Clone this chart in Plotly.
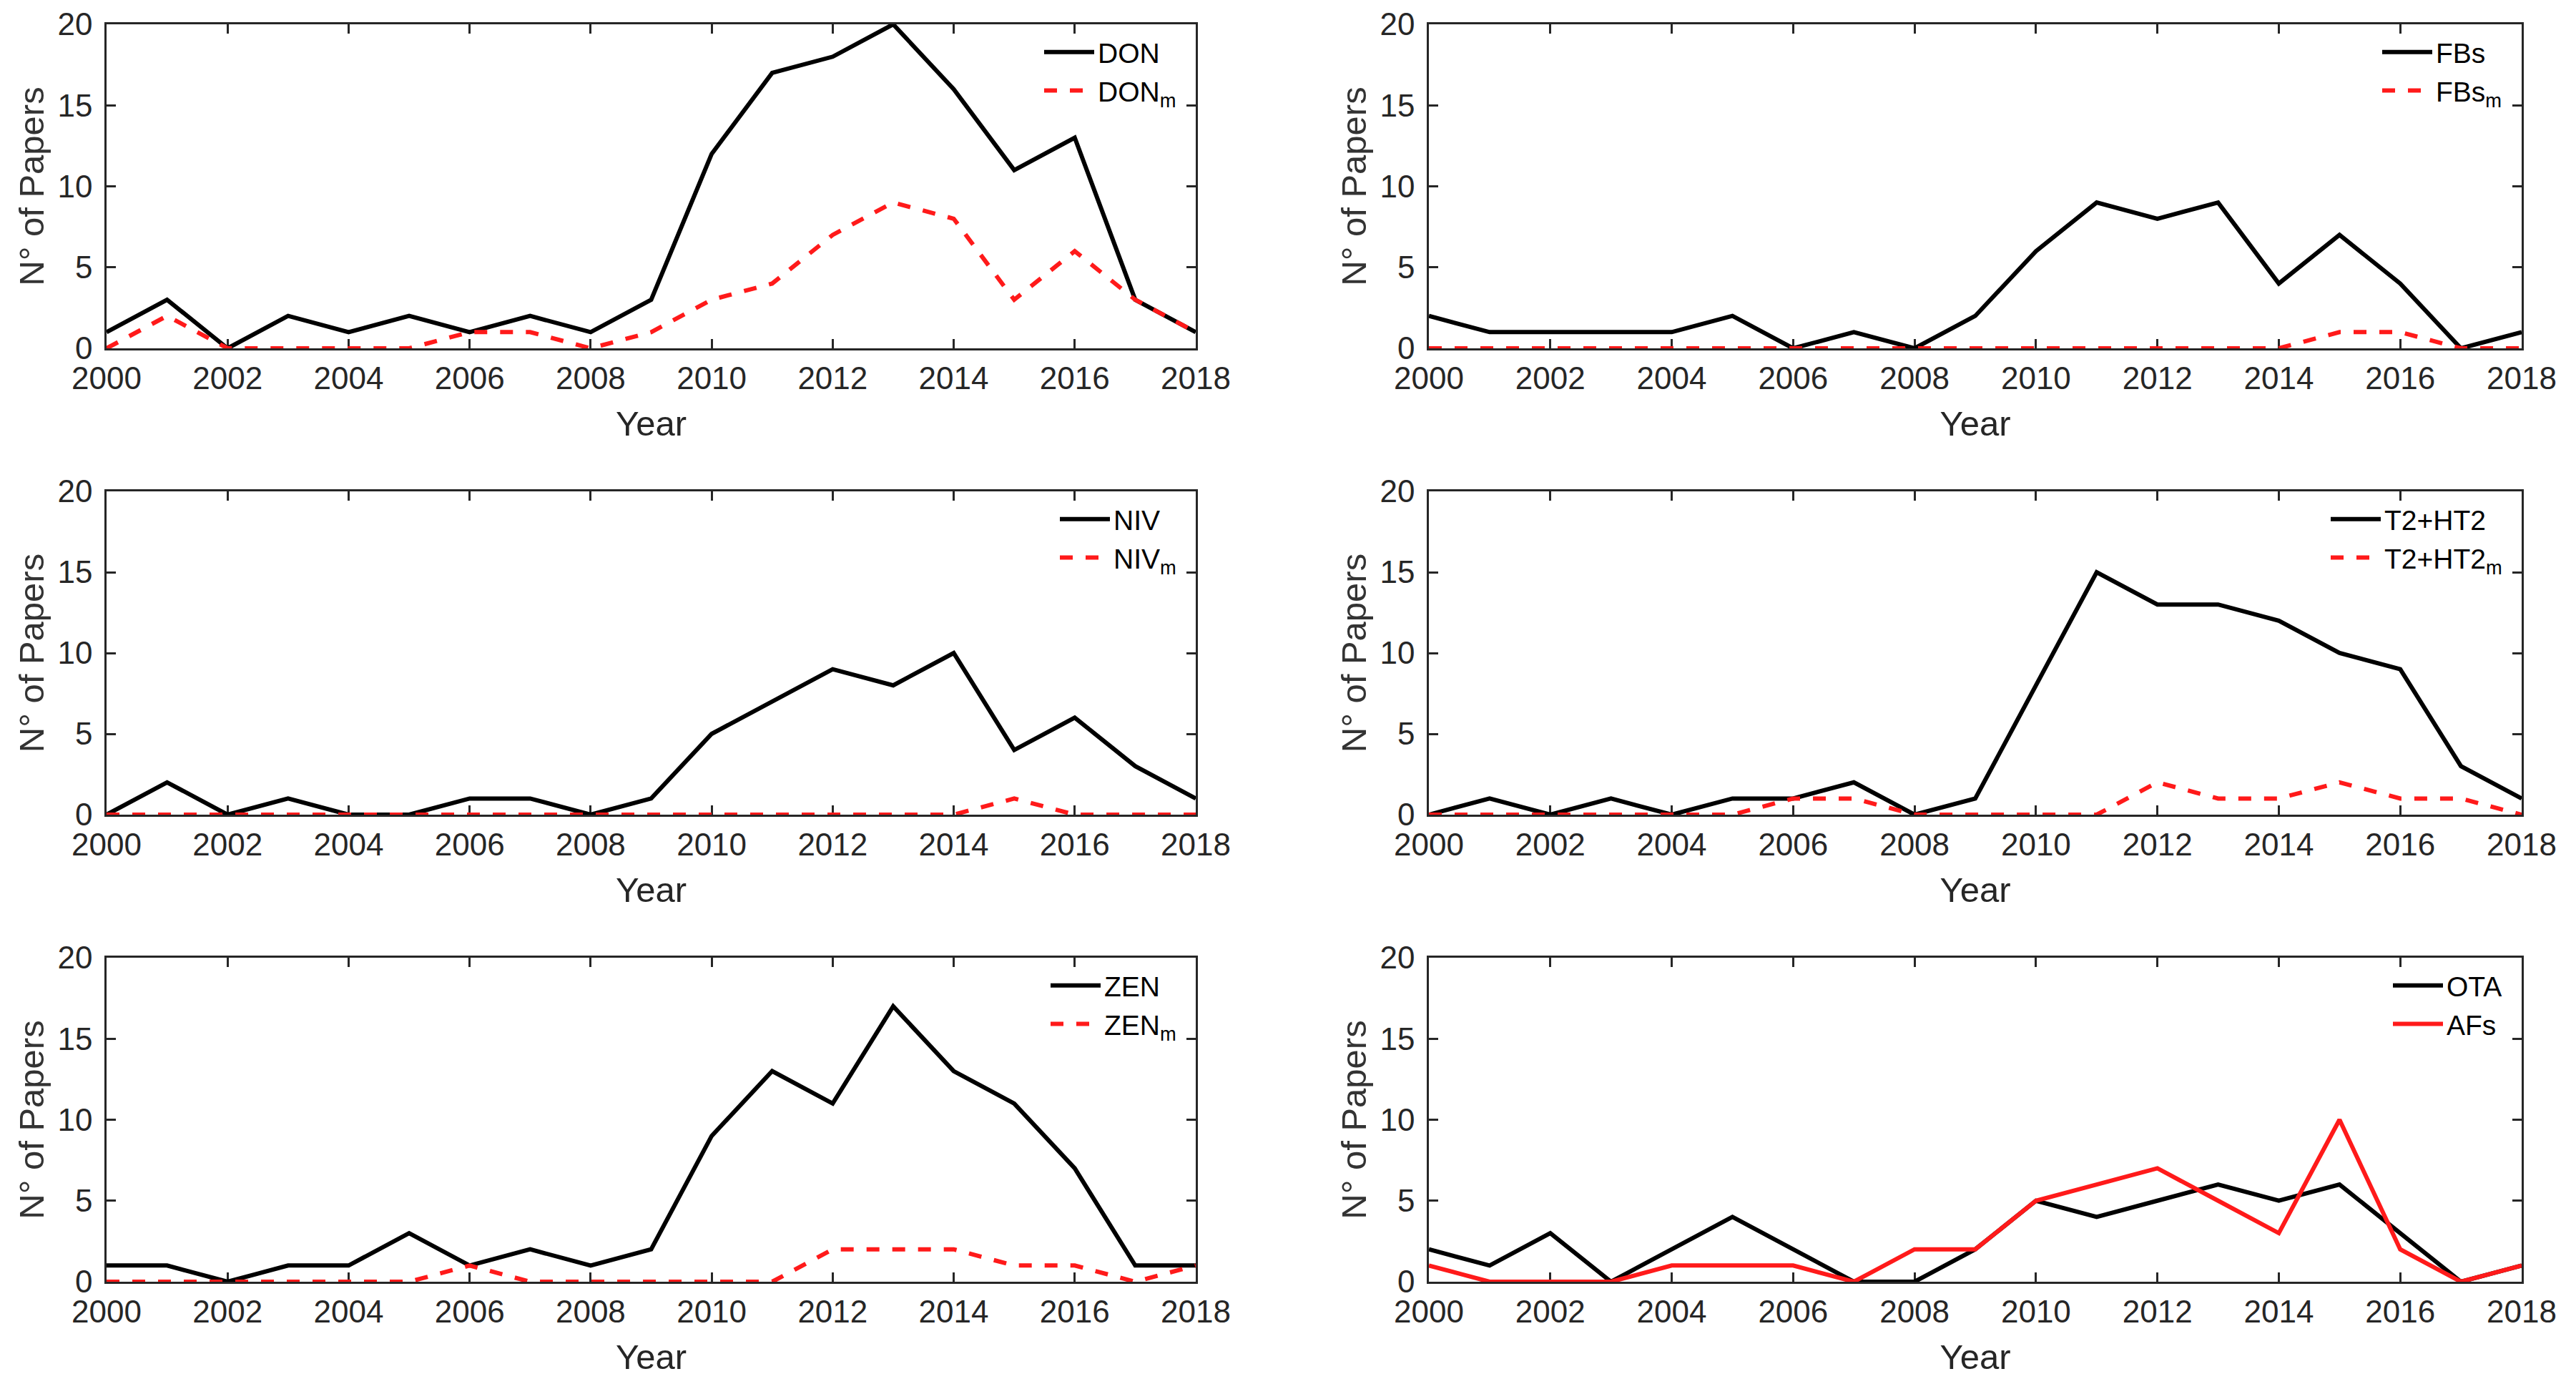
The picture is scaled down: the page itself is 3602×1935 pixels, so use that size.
import plotly.graph_objects as go

years = list(range(2000, 2019))

don   = [1, 3, 0, 2, 1, 2, 1, 2, 1, 3, 12, 17, 18, 20, 16, 11, 13, 3, 1]
don_m = [0, 2, 0, 0, 0, 0, 1, 1, 0, 1, 3, 4, 7, 9, 8, 3, 6, 3, 1]
fbs   = [2, 1, 1, 1, 1, 2, 0, 1, 0, 2, 6, 9, 8, 9, 4, 7, 4, 0, 1]
fbs_m = [0, 0, 0, 0, 0, 0, 0, 0, 0, 0, 0, 0, 0, 0, 0, 1, 1, 0, 0]
niv   = [0, 2, 0, 1, 0, 0, 1, 1, 0, 1, 5, 7, 9, 8, 10, 4, 6, 3, 1]
niv_m = [0, 0, 0, 0, 0, 0, 0, 0, 0, 0, 0, 0, 0, 0, 0, 1, 0, 0, 0]
t2    = [0, 1, 0, 1, 0, 1, 1, 2, 0, 1, 8, 15, 13, 13, 12, 10, 9, 3, 1]
t2_m  = [0, 0, 0, 0, 0, 0, 1, 1, 0, 0, 0, 0, 2, 1, 1, 2, 1, 1, 0]
zen   = [1, 1, 0, 1, 1, 3, 1, 2, 1, 2, 9, 13, 11, 17, 13, 11, 7, 1, 1]
zen_m = [0, 0, 0, 0, 0, 0, 1, 0, 0, 0, 0, 0, 2, 2, 2, 1, 1, 0, 1]
ota   = [2, 1, 3, 0, 2, 4, 2, 0, 0, 2, 5, 4, 5, 6, 5, 6, 3, 0, 1]
afs   = [1, 0, 0, 0, 1, 1, 1, 0, 2, 2, 5, 6, 7, 5, 3, 10, 2, 0, 1]

x_ticks = [2000, 2002, 2004, 2006, 2008, 2010, 2012, 2014, 2016, 2018]
y_ticks = [0, 5, 10, 15, 20]

panels = [
    ("DON", don, "DON<sub>m</sub>", don_m, "dash"),
    ("FBs", fbs, "FBs<sub>m</sub>", fbs_m, "dash"),
    ("NIV", niv, "NIV<sub>m</sub>", niv_m, "dash"),
    ("T2+HT2", t2, "T2+HT2<sub>m</sub>", t2_m, "dash"),
    ("ZEN", zen, "ZEN<sub>m</sub>", zen_m, "dash"),
    ("OTA", ota, "AFs", afs, "solid"),
]

W, H = 3602, 1935
OFF = 8  # page offset of the figure inside the browser
col_x = [(149 - OFF, 1672 - OFF), (1998 - OFF, 3526 - OFF)]
row_y = [(34 - OFF, 487 - OFF), (687 - OFF, 1139 - OFF), (1339 - OFF, 1792 - OFF)]

FONT = "Liberation Sans, Arial, Helvetica, sans-serif"
AX = "#262626"
RED = "#ff1a1a"

fig = go.Figure()
layout = dict(
    width=W, height=H,
    margin=dict(l=0, r=0, t=0, b=0, autoexpand=False),
    paper_bgcolor="white", plot_bgcolor="white",
    font=dict(family=FONT, color=AX, size=44),
)

for i, (n1, v1, n2, v2, dash2) in enumerate(panels):
    r, c = divmod(i, 2)
    k = "" if i == 0 else str(i + 1)
    leg = "legend" + k
    x0, x1 = col_x[c]
    y0, y1 = row_y[r]
    fig.add_trace(go.Scatter(x=years, y=v1, name=n1, mode="lines",
                             line=dict(color="black", width=6),
                             xaxis="x" + k, yaxis="y" + k, legend=leg))
    fig.add_trace(go.Scatter(x=years, y=v2, name=n2, mode="lines",
                             line=dict(color=RED, width=6,
                                       dash="18px,18px" if dash2 == "dash" else "solid"),
                             xaxis="x" + k, yaxis="y" + k, legend=leg))
    common = dict(showline=True, linecolor=AX, linewidth=2.5, mirror="ticks",
                  ticks="inside", ticklen=13, tickwidth=2.5, tickcolor=AX,
                  showgrid=False, zeroline=False, layer="below traces",
                  automargin=False,
                  tickfont=dict(size=44, color=AX, family=FONT))
    layout["xaxis" + k] = dict(
        domain=[x0 / W, x1 / W], anchor="y" + k, range=[2000, 2018],
        tickvals=x_ticks, ticklabelstandoff=1,
        title=dict(text="Year", font=dict(size=49, color=AX), standoff=24),
        **common)
    layout["yaxis" + k] = dict(
        domain=[1 - y1 / H, 1 - y0 / H], anchor="x" + k, range=[0, 20],
        tickvals=y_ticks, ticklabelstandoff=8,
        title=dict(text="N° of Papers", font=dict(size=49, color="#333333"), standoff=4),
        **common)
    layout[leg] = dict(
        x=(x1 - 22) / W, y=1 - (y0 + 7) / H, xanchor="right", yanchor="top",
        bgcolor="rgba(255,255,255,0)", borderwidth=0,
        font=dict(size=39, color="black", family=FONT),
        itemwidth=70, tracegroupgap=0)

fig.update_layout(**layout)
fig.write_html("out.html")
